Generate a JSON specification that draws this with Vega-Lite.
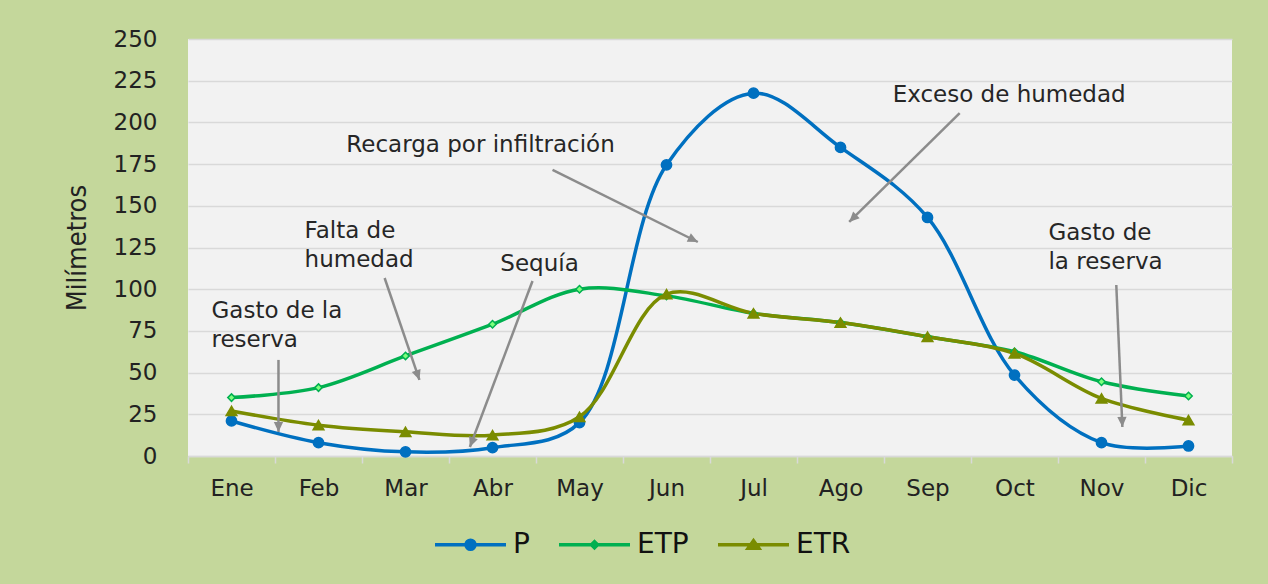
{
  "$schema": "https://vega.github.io/schema/vega-lite/v6.json",
  "width": 1044,
  "height": 417,
  "autosize": {"type": "none"},
  "padding": {"left": 188, "top": 39, "right": 36, "bottom": 128},
  "background": "#c4d79b",
  "config": {
    "view": {"fill": "#f2f2f2", "stroke": null},
    "font": "DejaVu Sans",
    "axis": {"labelFont": "DejaVu Sans", "labelFontSize": 23, "labelColor": "#222222"}
  },
  "datasets": {
    "series": [
      {"mes": "Ene", "n": 0, "serie": "P", "mm": 21},
      {"mes": "Feb", "n": 1, "serie": "P", "mm": 8},
      {"mes": "Mar", "n": 2, "serie": "P", "mm": 2.5},
      {"mes": "Abr", "n": 3, "serie": "P", "mm": 5},
      {"mes": "May", "n": 4, "serie": "P", "mm": 20},
      {"mes": "Jun", "n": 5, "serie": "P", "mm": 174.5},
      {"mes": "Jul", "n": 6, "serie": "P", "mm": 217.5},
      {"mes": "Ago", "n": 7, "serie": "P", "mm": 185},
      {"mes": "Sep", "n": 8, "serie": "P", "mm": 143},
      {"mes": "Oct", "n": 9, "serie": "P", "mm": 48.5},
      {"mes": "Nov", "n": 10, "serie": "P", "mm": 8},
      {"mes": "Dic", "n": 11, "serie": "P", "mm": 6},
      {"mes": "Ene", "n": 0, "serie": "ETP", "mm": 35},
      {"mes": "Feb", "n": 1, "serie": "ETP", "mm": 41},
      {"mes": "Mar", "n": 2, "serie": "ETP", "mm": 60},
      {"mes": "Abr", "n": 3, "serie": "ETP", "mm": 79},
      {"mes": "May", "n": 4, "serie": "ETP", "mm": 100},
      {"mes": "Jun", "n": 5, "serie": "ETP", "mm": 96},
      {"mes": "Jul", "n": 6, "serie": "ETP", "mm": 85.5},
      {"mes": "Ago", "n": 7, "serie": "ETP", "mm": 80},
      {"mes": "Sep", "n": 8, "serie": "ETP", "mm": 71.5},
      {"mes": "Oct", "n": 9, "serie": "ETP", "mm": 62.5},
      {"mes": "Nov", "n": 10, "serie": "ETP", "mm": 44.5},
      {"mes": "Dic", "n": 11, "serie": "ETP", "mm": 36},
      {"mes": "Ene", "n": 0, "serie": "ETR", "mm": 27},
      {"mes": "Feb", "n": 1, "serie": "ETR", "mm": 18.5},
      {"mes": "Mar", "n": 2, "serie": "ETR", "mm": 14.5},
      {"mes": "Abr", "n": 3, "serie": "ETR", "mm": 12.5},
      {"mes": "May", "n": 4, "serie": "ETR", "mm": 23.5},
      {"mes": "Jun", "n": 5, "serie": "ETR", "mm": 97},
      {"mes": "Jul", "n": 6, "serie": "ETR", "mm": 85.5},
      {"mes": "Ago", "n": 7, "serie": "ETR", "mm": 80},
      {"mes": "Sep", "n": 8, "serie": "ETR", "mm": 71.5},
      {"mes": "Oct", "n": 9, "serie": "ETR", "mm": 61.5},
      {"mes": "Nov", "n": 10, "serie": "ETR", "mm": 34.5},
      {"mes": "Dic", "n": 11, "serie": "ETR", "mm": 21.5}
    ],
    "notas": [
      {"texto": "Gasto de la\nreserva", "nx": -0.23, "ny": 82.7},
      {"texto": "Falta de\nhumedad", "nx": 0.84, "ny": 130.7},
      {"texto": "Sequía", "nx": 3.09, "ny": 110.9},
      {"texto": "Recarga por infiltración", "nx": 1.32, "ny": 182.3},
      {"texto": "Exceso de humedad", "nx": 7.6, "ny": 212.2},
      {"texto": "Gasto de\nla reserva", "nx": 9.39, "ny": 129.5}
    ],
    "flechas": [
      {"x0": 0.54, "y0": 57.6, "x1": 0.54, "y1": 14.4},
      {"x0": 1.76, "y0": 106.7, "x1": 2.16, "y1": 45.6},
      {"x0": 3.46, "y0": 104.9, "x1": 2.74, "y1": 5.4},
      {"x0": 3.69, "y0": 171.5, "x1": 5.36, "y1": 128.3},
      {"x0": 8.37, "y0": 205.6, "x1": 7.1, "y1": 140.3},
      {"x0": 10.17, "y0": 102.5, "x1": 10.24, "y1": 17.4}
    ]
  },
  "layer": [
    {
      "data": {"name": "series"},
      "mark": {"type": "line", "interpolate": "catmull-rom", "strokeWidth": 3.5},
      "encoding": {
        "x": {
          "field": "n", "type": "quantitative",
          "scale": {"domain": [-0.5, 11.5], "nice": false, "zero": false},
          "axis": {
            "title": null,
            "values": [-0.5, 0.5, 1.5, 2.5, 3.5, 4.5, 5.5, 6.5, 7.5, 8.5, 9.5, 10.5, 11.5],
            "labelExpr": "['Ene','Feb','Mar','Abr','May','Jun','Jul','Ago','Sep','Oct','Nov','Dic',''][round(datum.value + 0.5)]",
            "labelOffset": 43.5,
            "labelOverlap": false,
            "labelBound": false,
            "labelFlush": false,
            "grid": false,
            "domainColor": "#d9d9d9",
            "domainWidth": 1.5,
            "tickColor": "#d9d9d9",
            "tickWidth": 1.5,
            "tickSize": 7,
            "labelPadding": 14
          }
        },
        "y": {
          "field": "mm", "type": "quantitative",
          "scale": {"domain": [0, 250], "nice": false},
          "axis": {
            "title": "Milímetros",
            "titleFont": "DejaVu Sans Condensed, DejaVu Sans",
            "titleFontSize": 27,
            "titleFontWeight": "normal",
            "titleColor": "#222222",
            "titlePadding": 22,
            "values": [0, 25, 50, 75, 100, 125, 150, 175, 200, 225, 250],
            "labelPadding": 31,
            "ticks": false,
            "tickSize": 0,
            "domain": false,
            "grid": true,
            "gridColor": "#d9d9d9",
            "gridWidth": 1.5
          }
        },
        "detail": {"field": "serie", "type": "nominal"},
        "stroke": {
          "condition": [
            {"test": "datum.serie === 'P'", "value": "#0070c0"},
            {"test": "datum.serie === 'ETP'", "value": "#00b050"}
          ],
          "value": "#7a8c00"
        }
      }
    },
    {
      "data": {"name": "series"},
      "mark": {"type": "point", "filled": true, "opacity": 1, "strokeWidth": 1.5},
      "encoding": {
        "x": {"field": "n", "type": "quantitative"},
        "y": {"field": "mm", "type": "quantitative"},
        "stroke": {
          "condition": [
            {"test": "datum.serie === 'P'", "value": "#0070c0"},
            {"test": "datum.serie === 'ETP'", "value": "#00b050"}
          ],
          "value": "#7a8c00"
        },
        "fill": {
          "condition": [
            {"test": "datum.serie === 'P'", "value": "#0070c0"},
            {"test": "datum.serie === 'ETP'", "value": "#7dff7d"}
          ],
          "value": "#7a8c00"
        },
        "shape": {
          "condition": [
            {"test": "datum.serie === 'P'", "value": "circle"},
            {"test": "datum.serie === 'ETP'", "value": "diamond"}
          ],
          "value": "triangle-up"
        },
        "size": {
          "condition": [
            {"test": "datum.serie === 'P'", "value": 105},
            {"test": "datum.serie === 'ETP'", "value": 55}
          ],
          "value": 115
        }
      }
    },
    {
      "data": {"name": "series"},
      "mark": {"type": "point", "filled": true, "opacity": 1, "clip": true},
      "encoding": {
        "x": {"field": "n", "type": "quantitative"},
        "y": {"datum": -50, "type": "quantitative"},
        "stroke": {
          "field": "serie", "type": "nominal",
          "scale": {"domain": ["P", "ETP", "ETR"], "range": ["#0070c0", "#00b050", "#7a8c00"]},
          "legend": {"title": null, "orient": "none", "legendX": 245, "legendY": 468, "direction": "horizontal", "symbolSize": 5041, "symbolStrokeWidth": 3.5, "labelFont": "DejaVu Sans", "labelFontSize": 28, "labelColor": "#111111", "labelOffset": 5, "columnPadding": 22, "padding": 0, "symbolOpacity": 1}
        },
        "fill": {
          "field": "serie", "type": "nominal",
          "scale": {"domain": ["P", "ETP", "ETR"], "range": ["#0070c0", "#7dff7d", "#7a8c00"]},
          "legend": {"title": null, "orient": "none", "legendX": 245, "legendY": 468, "direction": "horizontal", "symbolSize": 5041, "symbolStrokeWidth": 3.5, "labelFont": "DejaVu Sans", "labelFontSize": 28, "labelColor": "#111111", "labelOffset": 5, "columnPadding": 22, "padding": 0, "symbolOpacity": 1}
        },
        "shape": {
          "field": "serie", "type": "nominal",
          "scale": {
            "domain": ["P", "ETP", "ETR"],
            "range": [
              "M-1,0L1,0M-0.127,0A0.127,0.127,0,1,0,0.127,0A0.127,0.127,0,1,0,-0.127,0Z",
              "M-1,0L1,0M0,-0.085L0.085,0L0,0.085L-0.085,0Z",
              "M-1,0L1,0M-0.15,0.1L0,-0.11L0.15,0.1Z"
            ]
          },
          "legend": {"title": null, "orient": "none", "legendX": 245, "legendY": 468, "direction": "horizontal", "symbolSize": 5041, "symbolStrokeWidth": 3.5, "labelFont": "DejaVu Sans", "labelFontSize": 28, "labelColor": "#111111", "labelOffset": 5, "columnPadding": 22, "padding": 0, "symbolOpacity": 1}
        }
      }
    },
    {
      "data": {"name": "flechas"},
      "mark": {"type": "rule", "strokeWidth": 2.5, "color": "#8c8c8c"},
      "encoding": {
        "x": {"field": "x0", "type": "quantitative"},
        "y": {"field": "y0", "type": "quantitative"},
        "x2": {"field": "x1"},
        "y2": {"field": "y1"}
      }
    },
    {
      "data": {"name": "flechas"},
      "transform": [
        {"calculate": "atan2((datum.x1 - datum.x0) * 87, (datum.y1 - datum.y0) * 1.668) * 180 / PI", "as": "ang"}
      ],
      "mark": {"type": "point", "filled": true, "opacity": 1, "color": "#8c8c8c", "shape": "M0,0L-0.6,1.3L0.6,1.3Z", "size": 240},
      "encoding": {
        "x": {"field": "x1", "type": "quantitative"},
        "y": {"field": "y1", "type": "quantitative"},
        "angle": {"field": "ang", "type": "quantitative", "scale": null}
      }
    },
    {
      "data": {"name": "notas"},
      "mark": {"type": "text", "align": "left", "baseline": "alphabetic", "lineBreak": "\n", "lineHeight": 29, "fontSize": 23, "font": "DejaVu Sans", "color": "#262626"},
      "encoding": {
        "x": {"field": "nx", "type": "quantitative"},
        "y": {"field": "ny", "type": "quantitative"},
        "text": {"field": "texto"}
      }
    }
  ]
}
